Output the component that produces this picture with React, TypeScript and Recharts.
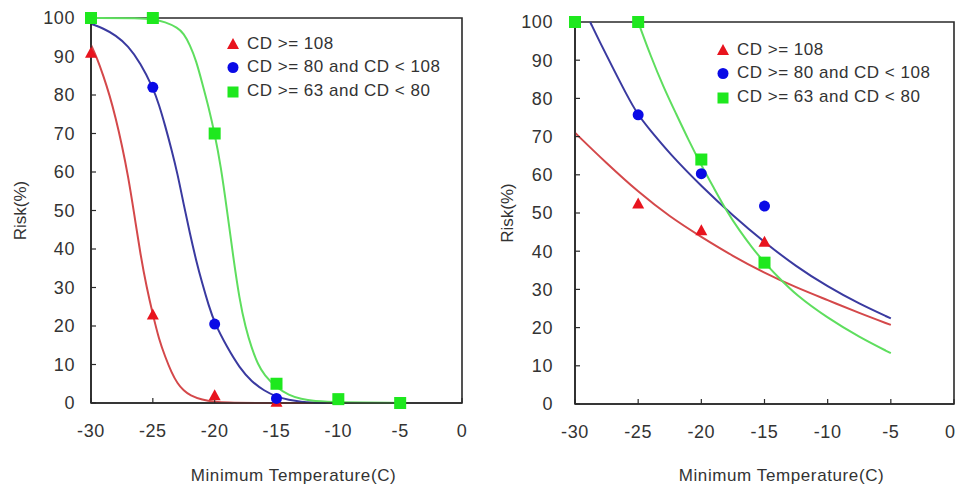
import { ComposedChart, Line, Scatter, XAxis, YAxis, Legend, Label, ReferenceArea } from 'recharts';

type Pt = { x: number; y: number };

const xTicks = [-30, -25, -20, -15, -10, -5, 0];
const yTicks = [0, 10, 20, 30, 40, 50, 60, 70, 80, 90, 100];
const seriesNames = ['CD >= 108', 'CD >= 80 and CD < 108', 'CD >= 63 and CD < 80'];

// left panel: observed risk
const leftRedObs: Pt[] = [
  { x: -30, y: 91 }, { x: -25, y: 23 }, { x: -20, y: 2 }, { x: -15, y: 0.3 },
];
const leftBlueObs: Pt[] = [
  { x: -25, y: 82 }, { x: -20, y: 20.5 }, { x: -15, y: 1.2 },
];
const leftGreenObs: Pt[] = [
  { x: -30, y: 100 }, { x: -25, y: 100 }, { x: -20, y: 70 }, { x: -15, y: 5 }, { x: -10, y: 1 }, { x: -5, y: 0 },
];

// left panel: fitted curves
const leftRedFit: Pt[] = [
  { x: -30, y: 93 }, { x: -29.5, y: 89.5 }, { x: -29, y: 85 }, { x: -28.5, y: 80 }, { x: -28, y: 74 },
  { x: -27.5, y: 67 }, { x: -27, y: 59 }, { x: -26.5, y: 49 }, { x: -26, y: 38.5 }, { x: -25.5, y: 30 },
  { x: -25, y: 23 }, { x: -24.5, y: 16.5 }, { x: -24, y: 12 }, { x: -23.5, y: 8 }, { x: -23, y: 5 },
  { x: -22.5, y: 3.2 }, { x: -22, y: 2 }, { x: -21, y: 0.8 }, { x: -20, y: 0.3 }, { x: -19, y: 0.1 },
  { x: -17, y: 0 }, { x: -12, y: 0 },
];
const leftBlueFit: Pt[] = [
  { x: -30, y: 98.5 }, { x: -29, y: 97.3 }, { x: -28, y: 95.5 }, { x: -27, y: 92.8 }, { x: -26, y: 88.3 },
  { x: -25, y: 82 }, { x: -24.5, y: 77.5 }, { x: -24, y: 72 }, { x: -23.5, y: 66 }, { x: -23, y: 59.5 },
  { x: -22.5, y: 51.5 }, { x: -22, y: 44 }, { x: -21.5, y: 37 }, { x: -21, y: 31 }, { x: -20.5, y: 25.5 },
  { x: -20, y: 20.7 }, { x: -19, y: 14.5 }, { x: -18, y: 9.2 }, { x: -17, y: 5.5 }, { x: -16, y: 3.2 },
  { x: -15, y: 1.6 }, { x: -14, y: 0.8 }, { x: -13, y: 0.3 }, { x: -12, y: 0.1 }, { x: -11, y: 0 },
];
const leftGreenFit: Pt[] = [
  { x: -30, y: 100 }, { x: -26, y: 100 }, { x: -25, y: 99.7 }, { x: -24, y: 99 }, { x: -23, y: 97.5 },
  { x: -22.5, y: 96 }, { x: -22, y: 93 }, { x: -21.5, y: 89 }, { x: -21, y: 83 }, { x: -20.5, y: 77 },
  { x: -20, y: 70 }, { x: -19.5, y: 61.5 }, { x: -19, y: 50 }, { x: -18.5, y: 38 }, { x: -18, y: 27 },
  { x: -17.5, y: 19.5 }, { x: -17, y: 14.2 }, { x: -16.5, y: 10 }, { x: -16, y: 7.3 }, { x: -15, y: 4 },
  { x: -14, y: 2 }, { x: -13, y: 1 }, { x: -12, y: 0.5 }, { x: -10, y: 0.2 }, { x: -5, y: 0 },
];

// right panel: observed risk
const rightRedObs: Pt[] = [
  { x: -25, y: 52.5 }, { x: -20, y: 45.5 }, { x: -15, y: 42.5 },
];
const rightBlueObs: Pt[] = [
  { x: -25, y: 75.7 }, { x: -20, y: 60.3 }, { x: -15, y: 51.8 },
];
const rightGreenObs: Pt[] = [
  { x: -30, y: 100 }, { x: -25, y: 100 }, { x: -20, y: 64 }, { x: -15, y: 37 },
];

// right panel: fitted curves
const rightRedFit: Pt[] = [
  { x: -30, y: 71 }, { x: -27.5, y: 63 }, { x: -25, y: 55.5 }, { x: -22.5, y: 49 }, { x: -20, y: 43.7 },
  { x: -17.5, y: 38.7 }, { x: -15, y: 34.3 }, { x: -12.5, y: 30.5 }, { x: -10, y: 27.2 }, { x: -7.5, y: 23.8 },
  { x: -5, y: 20.7 },
];
const rightBlueFit: Pt[] = [
  { x: -28.8, y: 100 }, { x: -28, y: 94.5 }, { x: -27, y: 88 }, { x: -26, y: 81.5 }, { x: -25, y: 75.5 },
  { x: -24, y: 71.5 }, { x: -22.5, y: 65.5 }, { x: -20, y: 57 }, { x: -17.5, y: 49.3 }, { x: -15, y: 42.3 },
  { x: -12.5, y: 36 }, { x: -10, y: 30.7 }, { x: -7.5, y: 26.2 }, { x: -5, y: 22.4 },
];
const rightGreenFit: Pt[] = [
  { x: -25, y: 100 }, { x: -24, y: 91 }, { x: -23, y: 83 }, { x: -22, y: 76 }, { x: -21, y: 69 },
  { x: -20, y: 62.5 }, { x: -19, y: 56.5 }, { x: -18, y: 50.5 }, { x: -17, y: 45.5 }, { x: -16, y: 41 },
  { x: -15, y: 37 }, { x: -14, y: 33.5 }, { x: -12.5, y: 28.5 }, { x: -10, y: 22.5 }, { x: -7.5, y: 17.5 },
  { x: -5, y: 13.3 },
];

const lineColors = ['#d4484a', '#3a3aa0', '#5ede5e'];
const markColors = ['#e8141e', '#0a0ae6', '#1ee81e'];
const textColor = '#333';
const font = '"Liberation Sans", Arial, sans-serif';

const triangle = (p: any) => (
  <polygon points={`${p.cx},${p.cy - 6} ${p.cx - 6},${p.cy + 5} ${p.cx + 6},${p.cy + 5}`} fill={p.fill} />
);
const circle = (p: any) => <circle cx={p.cx} cy={p.cy} r={5.5} fill={p.fill} />;
const square = (p: any) => <rect x={p.cx - 6} y={p.cy - 6} width={12} height={12} fill={p.fill} />;

function LegendIcon({ i }: { i: number }) {
  return (
    <svg width={14} height={14} style={{ display: 'block' }}>
      {i === 0 && <polygon points="7,1 1,12 13,12" fill={markColors[0]} />}
      {i === 1 && <circle cx={7} cy={7.5} r={5.5} fill={markColors[1]} />}
      {i === 2 && <rect x={1.5} y={2.5} width={11} height={11} fill={markColors[2]} />}
    </svg>
  );
}

function LegendBox() {
  return (
    <div style={{ fontFamily: font, fontSize: 17, color: textColor, letterSpacing: 0.5 }}>
      {seriesNames.map((n, i) => (
        <div key={n} style={{ display: 'flex', alignItems: 'center', height: 23.5, whiteSpace: 'nowrap' }}>
          <LegendIcon i={i} />
          <span style={{ marginLeft: 7 }}>{n}</span>
        </div>
      ))}
    </div>
  );
}

interface PanelProps {
  width: number;
  axisWidth: number;
  top: number;
  right: number;
  axisHeight: number;
  yTickMargin: number;
  yLabelOffset: number;
  legendLeft: number;
  legendTop: number;
  obs: Pt[][];
  fits: Pt[][];
}

function Panel(p: PanelProps) {
  const shapes = [triangle, circle, square];
  const tick = { fill: textColor, fontSize: 18, fontFamily: font, letterSpacing: 0.6 };
  const axisLine = { stroke: '#2a2a2a', strokeWidth: 1.6 };
  const tickLine = { stroke: '#2a2a2a', strokeWidth: 1.2 };
  return (
    <ComposedChart width={p.width} height={490} margin={{ top: p.top, right: p.right, bottom: 0, left: 0 }}>
      <XAxis
        type="number"
        dataKey="x"
        domain={[-30, 0]}
        ticks={xTicks}
        height={p.axisHeight}
        axisLine={axisLine}
        tickLine={tickLine}
        tickSize={-5}
        tickMargin={26}
        tick={tick}
      >
        <Label value="Minimum Temperature(C)" position="insideBottom" offset={9} dx={17} fill={textColor} fontSize={17} fontFamily={font} letterSpacing={0.6} />
      </XAxis>
      <YAxis
        type="number"
        domain={[0, 100]}
        ticks={yTicks}
        width={p.axisWidth}
        axisLine={axisLine}
        tickLine={tickLine}
        tickSize={-5}
        tickMargin={p.yTickMargin}
        tick={tick}
      >
        <Label value="Risk(%)" angle={-90} position="insideLeft" offset={p.yLabelOffset} fill={textColor} fontSize={17} fontFamily={font} style={{ textAnchor: 'middle' }} />
      </YAxis>
      <ReferenceArea x1={-30} x2={0} y1={0} y2={100} fill="none" stroke="#2a2a2a" strokeWidth={1.6} ifOverflow="visible" />
      <Legend
        layout="vertical"
        align="center"
        verticalAlign="middle"
        content={() => <LegendBox />}
        wrapperStyle={{ left: p.legendLeft, top: p.legendTop, width: 'auto', height: 'auto' }}
      />
      {p.fits.map((d, i) => (
        <Line
          key={'fit' + i}
          data={d}
          dataKey="y"
          type="basis"
          stroke={lineColors[i]}
          strokeWidth={2}
          dot={false}
          activeDot={false}
          isAnimationActive={false}
          legendType="none"
        />
      ))}
      {p.obs.map((d, i) => (
        <Scatter
          key={'obs' + i}
          data={d}
          dataKey="y"
          fill={markColors[i]}
          shape={shapes[i]}
          isAnimationActive={false}
          legendType="none"
        />
      ))}
    </ComposedChart>
  );
}

export default function App() {
  return (
    <div style={{ position: 'absolute', left: 0, top: 0, width: 955, height: 490, background: '#fff', display: 'flex', overflow: 'hidden' }}>
      <Panel
        width={480}
        axisWidth={91}
        top={18}
        right={18}
        axisHeight={87}
        yTickMargin={21}
        yLabelOffset={20}
        legendLeft={226}
        legendTop={32}
        obs={[leftRedObs, leftBlueObs, leftGreenObs]}
        fits={[leftRedFit, leftBlueFit, leftGreenFit]}
      />
      <Panel
        width={475}
        axisWidth={95}
        top={22}
        right={1}
        axisHeight={86}
        yTickMargin={27}
        yLabelOffset={27}
        legendLeft={236}
        legendTop={38}
        obs={[rightRedObs, rightBlueObs, rightGreenObs]}
        fits={[rightRedFit, rightBlueFit, rightGreenFit]}
      />
    </div>
  );
}
